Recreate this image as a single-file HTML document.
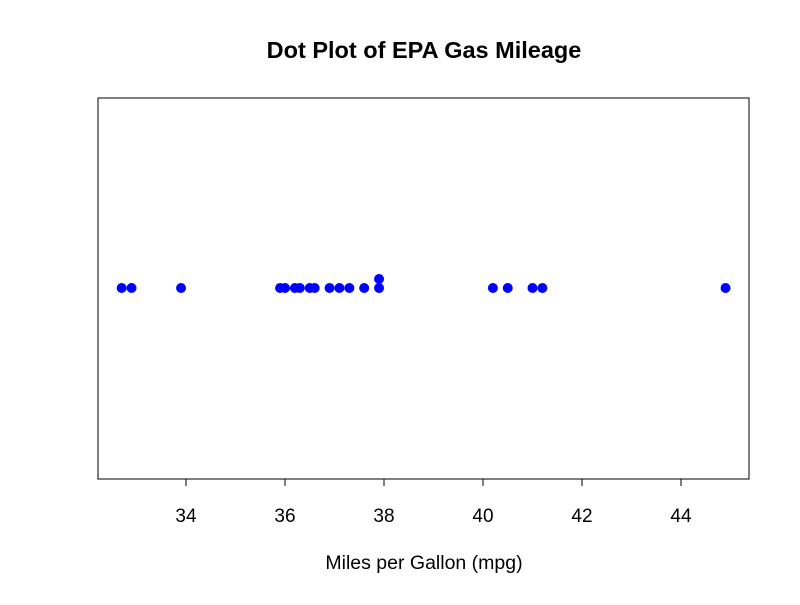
<!DOCTYPE html>
<html><head><meta charset="utf-8"><style>
body{margin:0;background:#fff;font-family:"Liberation Sans",sans-serif}
</style></head><body>
<svg width="800" height="600" xmlns="http://www.w3.org/2000/svg">
<rect width="800" height="600" fill="#fff"/>
<text x="424" y="58" text-anchor="middle" font-size="23.5" font-weight="bold">Dot Plot of EPA Gas Mileage</text>
<rect x="98" y="98" width="651" height="381" fill="none" stroke="#000"/>
<g id="axis"></g>
<g id="dots"></g>
<text x="424" y="569" text-anchor="middle" font-size="19.5">Miles per Gallon (mpg)</text>
</svg>
<script>
const mpg=[32.7,32.9,33.9,35.9,36.0,36.2,36.3,36.5,36.6,36.9,37.1,37.3,37.6,37.9,37.9,40.2,40.5,41.0,41.2,44.9];
const ticks=[34,36,38,40,42,44];
const NS="http://www.w3.org/2000/svg";
function xs(v){return 186+(v-34)*49.5;}
const ax=document.getElementById('axis');
let l=document.createElementNS(NS,'line');
l.setAttribute('x1',xs(ticks[0]));l.setAttribute('x2',xs(ticks[ticks.length-1]));
l.setAttribute('y1',479);l.setAttribute('y2',479);l.setAttribute('stroke','#000');


ax.appendChild(l);
ticks.forEach(t=>{
 const tk=document.createElementNS(NS,'line');
 tk.setAttribute('x1',xs(t));tk.setAttribute('x2',xs(t));tk.setAttribute('y1',479);tk.setAttribute('y2',486);tk.setAttribute('stroke','#000');
 
 
 ax.appendChild(tk);
 const tx=document.createElementNS(NS,'text');
 tx.setAttribute('x',xs(t));tx.setAttribute('y',522);tx.setAttribute('text-anchor','middle');tx.setAttribute('font-size','19');
 tx.textContent=t;
 
 
 ax.appendChild(tx);
});
const g=document.getElementById('dots');
const counts={};
mpg.forEach(v=>{
 const k=v.toFixed(1);counts[k]=(counts[k]||0);
 const c=document.createElementNS(NS,'circle');
 c.setAttribute('cx',xs(v));c.setAttribute('cy',288-counts[k]*9);c.setAttribute('r',5);c.setAttribute('fill','#0000ff');
 
 
 g.appendChild(c);counts[k]++;
});
</script>
</body></html>
